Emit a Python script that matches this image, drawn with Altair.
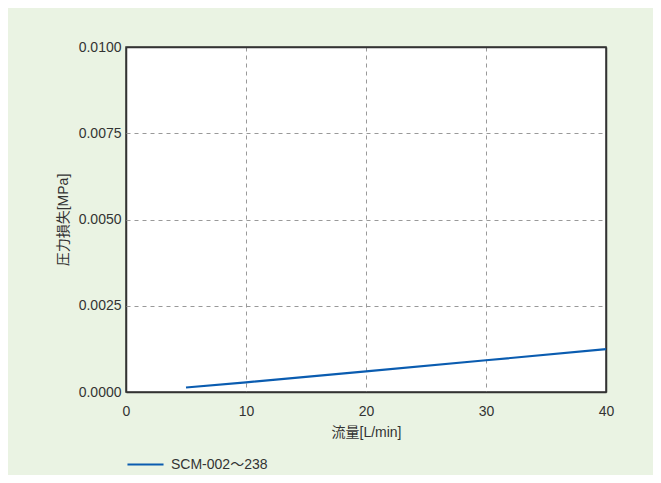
import altair as alt
import pandas as pd

flow = [5, 10, 20, 30, 40]
loss = [0.00013, 0.00028, 0.00060, 0.00092, 0.00124]
series = ["SCM-002～238"] * len(flow)

df = pd.DataFrame({"flow": flow, "loss": loss, "series": series})

FONT = "Liberation Sans, Arial, Noto Sans CJK JP"
TXT = "#333333"
FRAME = "#333333"

x_edge = "datum.value == 0 || datum.value == 40"
y_edge = "datum.value == 0 || datum.value >= 0.0099"

chart = alt.Chart(df).mark_line(strokeWidth=2.2, color="#0a5cb0").encode(
    x=alt.X("flow:Q", scale=alt.Scale(domain=[0, 40], nice=False),
            axis=alt.Axis(title="流量[L/min]", values=[0, 10, 20, 30, 40], format="d",
                          domain=False, ticks=False, labelPadding=12, titlePadding=7,
                          labelFlush=False,
                          grid=True,
                          gridDash=alt.condition(x_edge, alt.value([]), alt.value([4, 4])),
                          gridColor=alt.condition(x_edge, alt.value(FRAME), alt.value("#999999")),
                          gridWidth=alt.condition(x_edge, alt.value(1.5), alt.value(1)))),
    y=alt.Y("loss:Q", scale=alt.Scale(domain=[0, 0.01], nice=False),
            axis=alt.Axis(title="圧力損失[MPa]", values=[0, 0.0025, 0.005, 0.0075, 0.01], format=".4f",
                          domain=False, ticks=False, labelPadding=5, titlePadding=8,
                          labelFlush=False,
                          grid=True,
                          gridDash=alt.condition(y_edge, alt.value([]), alt.value([4, 4])),
                          gridColor=alt.condition(y_edge, alt.value(FRAME), alt.value("#999999")),
                          gridWidth=alt.condition(y_edge, alt.value(1.5), alt.value(1)))),
    color=alt.Color("series:N", scale=alt.Scale(range=["#0a5cb0"]),
                    legend=alt.Legend(title=None, orient="none", legendX=0, legendY=398,
                                      symbolType="stroke", symbolSize=1300, symbolStrokeWidth=2.2,
                                      labelFontSize=14, labelFont=FONT, labelColor=TXT,
                                      labelOffset=6)),
).properties(
    width=480, height=345,
    autosize=alt.AutoSizeParams(type="none"),
    padding={"left": 118, "top": 39, "right": 47, "bottom": 83},
    background="#eaf3e3",
).configure_view(
    stroke=FRAME, strokeWidth=1.5, fill="white"
).configure_axis(
    labelFont=FONT, titleFont=FONT, labelFontSize=14, titleFontSize=14,
    labelColor=TXT, titleColor=TXT, titleFontWeight="normal",
)

chart.save("out.html", embed_options={"renderer": "svg", "actions": False})
